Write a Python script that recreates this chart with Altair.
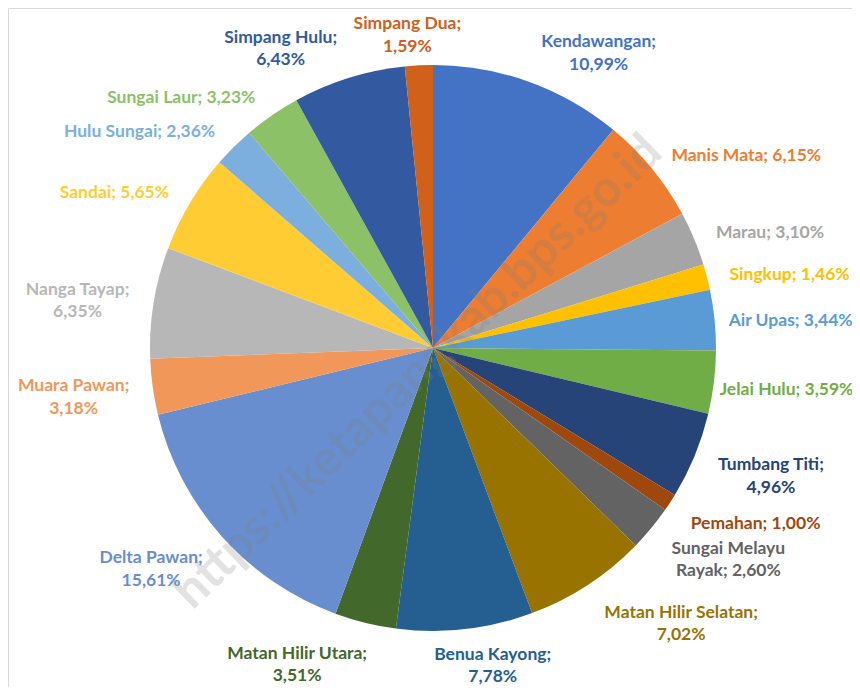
import math
import altair as alt
import pandas as pd

names = ["Kendawangan", "Manis Mata", "Marau", "Singkup", "Air Upas", "Jelai Hulu",
         "Tumbang Titi", "Pemahan", "Sungai Melayu Rayak", "Matan Hilir Selatan",
         "Benua Kayong", "Matan Hilir Utara", "Delta Pawan", "Muara Pawan",
         "Nanga Tayap", "Sandai", "Hulu Sungai", "Sungai Laur", "Simpang Hulu", "Simpang Dua"]
values = [10.99, 6.15, 3.10, 1.46, 3.44, 3.59, 4.96, 1.00, 2.60, 7.02,
          7.78, 3.51, 15.61, 3.18, 6.35, 5.65, 2.36, 3.23, 6.43, 1.59]
colors = ["#4472C4", "#ED7D31", "#A5A5A5", "#FFC000", "#5B9BD5", "#70AD47",
          "#264478", "#9E480E", "#636363", "#997300", "#255E91", "#43682B",
          "#698ED0", "#F1975A", "#B7B7B7", "#FFCD33", "#7CAFDD", "#8CC168",
          "#335AA1", "#D0601A"]
# 0 = one line, 1 = break after ";", 2 = break inside the name
wrap = [1, 0, 0, 0, 0, 0, 1, 0, 2, 1, 1, 1, 1, 1, 1, 0, 0, 0, 1, 1]
watermark = "https://ketapangkab.bps.go.id"

W, H = 844, 679
CX, CY, R, RL = 425, 340, 283, 298
FS, LH, GAP = 17.5, 22.5, 8

# rough advance widths (em) used only to keep labels inside the frame
_cw = {"i": .26, "l": .26, "j": .26, ";": .26, ",": .26, ".": .26, " ": .26,
       "t": .38, "r": .39, "f": .36, "J": .42, "I": .3, "s": .44, "c": .47,
       "m": .87, "w": .80, "M": .93, "W": .98, "%": .82}


def text_w(t):
    tot = 0.0
    for ch in t:
        if ch in _cw:
            tot += _cw[ch]
        elif ch.isdigit():
            tot += .58
        elif ch.isupper():
            tot += .68
        else:
            tot += .55
    return tot * FS * 0.97


rows = []
cum = 0.0
for i, (n, v, c, w) in enumerate(zip(names, values, colors, wrap)):
    start, end = cum, cum + v
    cum = end
    mid = (start + end) / 2
    pct = f"{v:.2f}".replace(".", ",") + "%"
    if w == 0:
        lines = [f"{n}; {pct}"]
    elif w == 1:
        lines = [f"{n};", pct]
    else:
        parts = n.split(" ")
        lines = [" ".join(parts[:-1]), f"{parts[-1]}; {pct}"]
    a = mid / 100 * 2 * math.pi
    s, co = math.sin(a), math.cos(a)
    f = max(-1.0, min(1.0, 3.5 * s))
    wd = max(text_w(t) for t in lines)
    nl = len(lines)
    ax, ay = CX + RL * s, CY - RL * co
    if nl == 1 and f >= 1:
        al, dx = "left", GAP
        x0, x1 = ax + dx, ax + dx + wd
    elif nl == 1 and f <= -1:
        al, dx = "right", -GAP
        x0, x1 = ax + dx - wd, ax + dx
    else:
        al, dx = "center", f * (wd / 2 + GAP)
        x0, x1 = ax + dx - wd / 2, ax + dx + wd / 2
    if x1 > W - 2:
        dx -= x1 - (W - 2)
    if x0 < 4:
        dx += 4 - x0
    k = 0.85 if (co > 0 and nl > 1) else 1.0
    dy = -co * (nl * LH) / 2 * k - (nl - 1) * LH / 2 + 4
    if co < 0:
        dy += 8 * abs(s * co)
    last = ay + dy + (nl - 1) * LH
    if last > H - 10:
        dy -= last - (H - 10)
    rows.append(dict(idx=i, name=n, value=v, start=start, end=end, mid=mid,
                     label="\n".join(lines), al=al, dx=dx, dy=dy))

df = pd.DataFrame(rows)

theta_scale = alt.Scale(domain=[0, 100])
color_scale = alt.Scale(domain=names, range=colors)

arcs = alt.Chart(df).mark_arc(outerRadius=R).encode(
    theta=alt.Theta("start:Q", scale=theta_scale, stack=None),
    theta2="end:Q",
    color=alt.Color("name:N", scale=color_scale, legend=None),
    x=alt.value(CX),
    y=alt.value(CY),
)

labels = alt.Chart(df).mark_text(
    radius=RL, font="Lato", fontSize=FS, fontWeight="bold", lineBreak="\n",
    lineHeight=LH, baseline="middle",
    align=alt.ExprRef(expr="datum.al"),
    dx=alt.ExprRef(expr="datum.dx"),
    dy=alt.ExprRef(expr="datum.dy"),
).encode(
    theta=alt.Theta("mid:Q", scale=theta_scale, stack=None),
    text="label:N",
    color=alt.Color("name:N", scale=color_scale, legend=None),
    x=alt.value(CX),
    y=alt.value(CY),
)

wm = alt.Chart(pd.DataFrame({"t": [watermark]})).mark_text(
    font="Lato", fontSize=50, fontWeight="bold", angle=316,
    color="#7F7F7F", opacity=0.22,
).encode(text="t:N", x=alt.value(410), y=alt.value(364))

chart = alt.layer(arcs, wm, labels).properties(
    width=W, height=H, autosize=alt.AutoSizeParams(type="none"), padding=0
).configure_view(stroke="#D9D9D9")

chart.save("out.html", embed_options={"renderer": "svg", "actions": False})
